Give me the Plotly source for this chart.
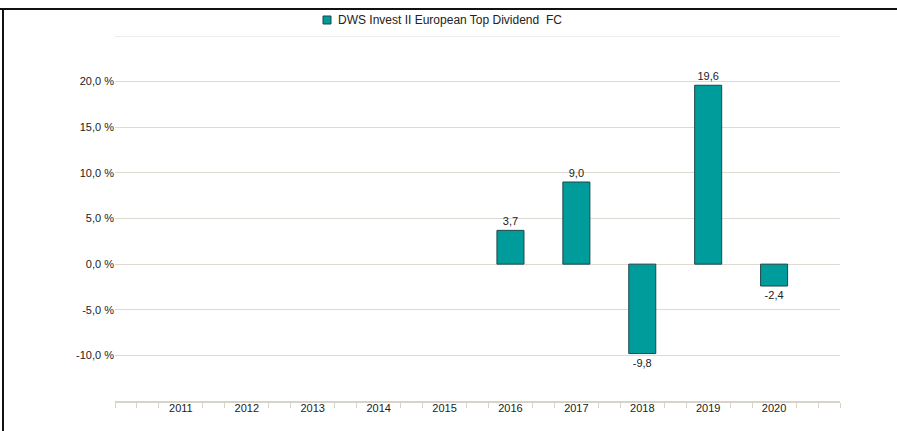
import plotly.graph_objects as go

years = [2011, 2012, 2013, 2014, 2015, 2016, 2017, 2018, 2019, 2020]
returns = [None, None, None, None, None, 3.7, 9.0, -9.8, 19.6, -2.4]
series_name = "DWS Invest II European Top Dividend  FC"
y_ticks = [-10, -5, 0, 5, 10, 15, 20]
y_grid = [-15, -10, -5, 0, 5, 10, 15, 20, 25]

FONT = "Liberation Sans, Arial, sans-serif"
GRID = "#dedad2"
AXIS = "#d8d3c8"
BAR = "#009c9c"
EDGE = "#1d4747"

W, H = 897, 431
ML, MR, MT, MB = 115, 57, 36, 30
PW, PH = W - ML - MR, H - MT - MB


def px(xp):
    return (xp - ML) / PW


def py(yp):
    return 1 - (yp - MT) / PH


fig = go.Figure()
fig.add_trace(go.Bar(
    x=years, y=returns, name=series_name, width=0.41,
    marker=dict(color=BAR, line=dict(color=EDGE, width=1)),
    texttemplate="%{y:.1f}", textposition="outside",
    textfont=dict(family=FONT, size=11, color="#222222"),
    cliponaxis=False, showlegend=False,
))

minor_vals = []
for k in range(0, 34):
    v = 2010 + k / 3
    if abs(v - round(v)) > 1e-6 or round(v) in (2010, 2021):
        minor_vals.append(v)

fig.update_layout(
    width=W, height=H,
    margin=dict(l=ML, r=MR, t=MT, b=MB),
    paper_bgcolor="white", plot_bgcolor="white",
    separators=",.",
    font=dict(family=FONT, size=11, color="#333333"),
    showlegend=False,
    xaxis=dict(range=[2010, 2021], tickmode="array", tickvals=years,
               ticktext=[str(y) for y in years], showgrid=False, zeroline=False,
               showline=True, linecolor=AXIS, linewidth=2,
               ticks="", ticklabelstandoff=-4,
               tickfont=dict(family=FONT, size=11, color="#222222"),
               minor=dict(tickmode="array", tickvals=minor_vals, ticks="outside",
                          ticklen=5, tickcolor=AXIS, tickwidth=1, showgrid=False)),
    yaxis=dict(range=[-15, 25], tickmode="array", tickvals=y_grid,
               ticktext=[("%.1f %%" % v).replace(".", ",") if v in y_ticks else "" for v in y_grid],
               showgrid=True, gridcolor=GRID, gridwidth=1, zeroline=False,
               ticks="", ticklen=0, tickfont=dict(family=FONT, size=11, color="#222222")),
)

# top gridline (plotly omits the gridline at the range edge)
fig.add_shape(type="line", xref="paper", yref="y", x0=0, x1=1,
              y0=y_grid[-1], y1=y_grid[-1], layer="below",
              line=dict(color=GRID, width=1))

# legend (drawn manually for exact size/position)
fig.add_shape(type="rect", xref="paper", yref="paper",
              x0=px(323), x1=px(331), y0=py(24), y1=py(16),
              fillcolor=BAR, line=dict(color=EDGE, width=1))
fig.add_annotation(xref="paper", yref="paper", x=px(336), y=py(20),
                   xanchor="left", yanchor="middle", showarrow=False,
                   text=series_name, font=dict(family=FONT, size=12, color="#222222"))

# frame lines (top and left)
fig.add_shape(type="line", xref="paper", yref="paper", x0=px(0), x1=px(W),
              y0=py(9), y1=py(9), line=dict(color="#111111", width=2))
fig.add_shape(type="line", xref="paper", yref="paper", x0=px(3), x1=px(3),
              y0=py(9), y1=py(H + 2), line=dict(color="#111111", width=2))

fig.write_html("out.html", post_script="document.body.style.margin='0';",
               config={"displayModeBar": False})
